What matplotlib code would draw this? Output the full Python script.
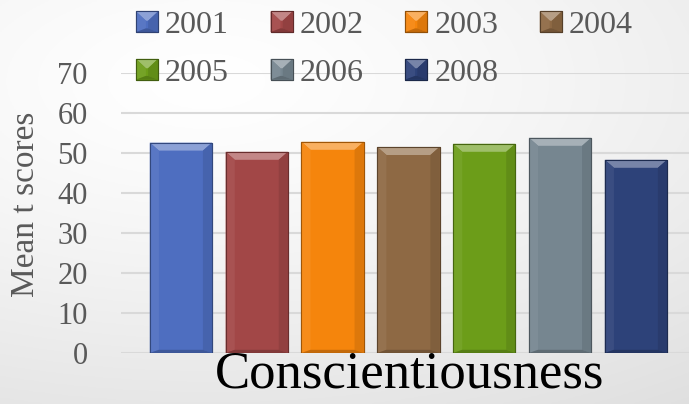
import numpy as np
import matplotlib
matplotlib.use("Agg")
import matplotlib.pyplot as plt
from matplotlib.patches import Polygon, Rectangle
from matplotlib.colors import to_rgb
from matplotlib.legend_handler import HandlerBase

years = ["2001", "2002", "2003", "2004", "2005", "2006", "2008"]
mean_t_scores = [52.6, 50.3, 52.8, 51.5, 52.3, 53.8, 48.3]
bar_colors = ["#4E6EC0", "#A24747", "#F5850C", "#8E6944", "#6C9D19", "#768690", "#2D4279"]
y_ticks = [0, 10, 20, 30, 40, 50, 60, 70]
category_label = "Conscientiousness"

SERIF = "Liberation Serif"
GREY_TEXT = "#595959"


def mix(c, other, t):
    c = np.array(to_rgb(c))
    o = np.array(to_rgb(other))
    return tuple(c * (1 - t) + o * t)


def bevel_patches(x0, y0, w, h, c, bx, by, zorder=4, transform=None):
    """Facets giving a rectangle a raised, bevelled look."""
    x1, y1 = x0 + w, y0 + h
    kw = dict(closed=True, edgecolor="none", zorder=zorder)
    if transform is not None:
        kw["transform"] = transform
    return [
        Polygon([(x0, y1), (x1, y1), (x1 - bx, y1 - by), (x0 + bx, y1 - by)],
                facecolor=mix(c, "white", 0.35), **kw),
        Polygon([(x0, y1), (x0 + bx, y1 - by), (x0 + bx, y0 + by * 0.4), (x0, y0)],
                facecolor=mix(c, "white", 0.06), **kw),
        Polygon([(x1, y1), (x1 - bx, y1 - by), (x1 - bx, y0 + by * 0.4), (x1, y0)],
                facecolor=mix(c, "black", 0.10), **kw),
        Polygon([(x0, y0), (x0 + bx, y0 + by * 0.4), (x1 - bx, y0 + by * 0.4), (x1, y0)],
                facecolor=mix(c, "black", 0.2), **kw),
    ]


class BevelHandler(HandlerBase):
    def create_artists(self, legend, orig_handle, xdescent, ydescent,
                       width, height, fontsize, trans):
        c = orig_handle.get_facecolor()
        base = Rectangle((-xdescent, -ydescent), width, height, facecolor=c,
                         edgecolor=mix(c[:3], "black", 0.4), linewidth=0.8,
                         transform=trans)
        facets = bevel_patches(-xdescent, -ydescent, width, height, c[:3],
                               width * 0.45, height * 0.45, transform=trans)
        edge = Rectangle((-xdescent, -ydescent), width, height, facecolor="none",
                         edgecolor=mix(c[:3], "black", 0.4), linewidth=0.8,
                         transform=trans)
        return [base] + facets + [edge]


fig = plt.figure(figsize=(6.89, 4.04), dpi=100)

# soft slide-style background
bg = fig.add_axes([0, 0, 1, 1], zorder=-10)
yy, xx = np.mgrid[0:1:200j, 0:1:340j]
r = np.sqrt(((xx - 0.3) / 1.1) ** 2 + ((yy - 0.2) / 0.9) ** 2)
shade = 1.0 - 0.11 * np.clip(r, 0, 1.1) ** 1.3
bg.imshow(np.dstack([shade] * 3), extent=[0, 1, 0, 1], origin="upper", aspect="auto")
bg.set_axis_off()

ax = fig.add_axes([121 / 689, 51 / 404, 1 - 121 / 689, 280 / 404])
ax.patch.set_alpha(0)

x = np.arange(len(years))
width = 0.82
bars = ax.bar(x, mean_t_scores, width=width, color=bar_colors, zorder=3,
              edgecolor=[mix(c, "black", 0.35) for c in bar_colors], linewidth=0.8)

# bevel facets on each bar
for b, c in zip(bars, bar_colors):
    for p in bevel_patches(b.get_x(), 0, b.get_width(), b.get_height(), c, 0.12, 2.0):
        ax.add_patch(p)
    ax.add_patch(Rectangle((b.get_x(), 0), b.get_width(), b.get_height(), facecolor="none",
                           edgecolor=mix(c, "black", 0.35), linewidth=0.8, zorder=5))

ax.set_ylim(0, 70)
ax.set_xlim(-0.79, 6.70)
ax.set_yticks(y_ticks)
ax.set_xticks([])
ax.grid(axis="y", color="#d9d9d9", linewidth=1.5, zorder=0)
for s in ax.spines.values():
    s.set_visible(False)
ax.tick_params(axis="y", length=0, pad=24, labelsize=22, labelcolor=GREY_TEXT)
for lbl in ax.get_yticklabels():
    lbl.set_fontfamily(SERIF)

fig.text(26 / 689, 1 - 204 / 404, "Mean t scores", rotation=90, ha="center", va="center",
         fontsize=24, color=GREY_TEXT, family=SERIF)
fig.text(410 / 689, 1 - 375 / 404, category_label, ha="center", va="center",
         fontsize=38, color="black", family=SERIF)

# legend in row-major order across four columns
order = [0, 4, 1, 5, 2, 6, 3]
handles = [bars[i] for i in order]
labels = [years[i] for i in order]
leg = fig.legend(handles, labels, ncol=4, loc="upper left",
                 bbox_to_anchor=(136 / 689, 1 - 11 / 404), frameon=False,
                 borderpad=0, borderaxespad=0,
                 prop={"family": SERIF, "size": 23},
                 labelcolor=GREY_TEXT, handlelength=0.69, handleheight=0.62,
                 handletextpad=0.22, columnspacing=1.3, labelspacing=0.58,
                 handler_map={type(bars[0]): BevelHandler()})

fig.savefig("out.png", dpi=100)
